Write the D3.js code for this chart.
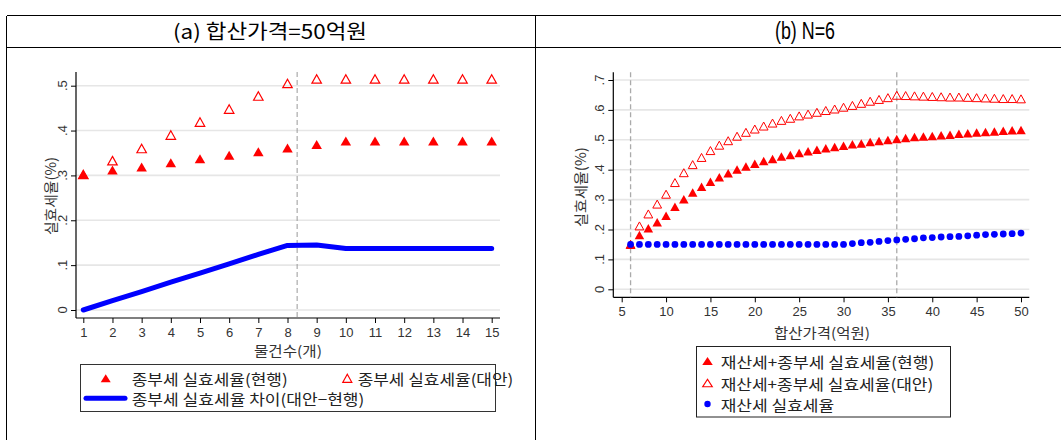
<!DOCTYPE html>
<html><head><meta charset="utf-8">
<script src="https://cdn.jsdelivr.net/npm/d3@7"></script>
<style>body{margin:0;background:#fff} svg{display:block}</style>
</head><body>
<svg id="c" width="1061" height="440"></svg>
<script>
// ---------- DATA ----------
const titleA = "(a) 합산가격=50억원";
const titleB = "(b) N=6";

// Panel (a): 합산가격 = 50억원, x = 물건수
const countX = [1,2,3,4,5,6,7,8,9,10,11,12,13,14,15];
const jbCurrent = [0.302,0.312,0.319,0.328,0.337,0.345,0.353,0.361,0.369,0.377,0.377,0.377,0.377,0.377,0.377];
const jbAlt     = [0.302,0.333,0.360,0.390,0.419,0.448,0.477,0.505,0.515,0.515,0.515,0.515,0.515,0.515,0.515];
const jbDiff    = [0.000,0.021,0.041,0.062,0.082,0.103,0.124,0.144,0.145,0.137,0.137,0.137,0.137,0.137,0.137];
const cutoffA = 8.33;
const xTicksA = [1,2,3,4,5,6,7,8,9,10,11,12,13,14,15];
const yTicksA = [0,0.1,0.2,0.3,0.4,0.5];

// Panel (b): N = 6, x = 합산가격(억원)
const priceX = [6,7,8,9,10,11,12,13,14,15,16,17,18,19,20,21,22,23,24,25,26,27,28,29,30,
                31,32,33,34,35,36,37,38,39,40,41,42,43,44,45,46,47,48,49,50];
const totCurrent = [0.150,0.182,0.204,0.224,0.246,0.276,0.301,0.324,0.343,0.360,0.375,0.388,0.401,0.411,0.420,
                    0.429,0.436,0.444,0.449,0.456,0.462,0.467,0.472,0.476,0.480,0.485,0.488,0.493,0.496,0.499,
                    0.503,0.506,0.509,0.511,0.513,0.515,0.517,0.520,0.522,0.524,0.526,0.528,0.530,0.532,0.533];
const totAlt     = [0.150,0.212,0.252,0.285,0.318,0.357,0.390,0.417,0.441,0.464,0.482,0.497,0.512,0.525,0.536,
                    0.546,0.556,0.565,0.572,0.580,0.586,0.592,0.598,0.603,0.609,0.615,0.622,0.629,0.635,0.641,
                    0.649,0.648,0.647,0.646,0.645,0.644,0.643,0.643,0.642,0.641,0.640,0.639,0.638,0.638,0.637];
const propTax    = [0.150,0.150,0.150,0.150,0.150,0.150,0.150,0.150,0.150,0.150,0.150,0.150,0.150,0.150,0.150,
                    0.150,0.150,0.150,0.150,0.150,0.150,0.150,0.150,0.150,0.150,0.153,0.156,0.157,0.160,0.163,
                    0.165,0.167,0.169,0.172,0.173,0.175,0.176,0.177,0.179,0.181,0.183,0.184,0.185,0.186,0.188];
const cutoffsB = [6,36];
const xTicksB = [5,10,15,20,25,30,35,40,45,50];
const yTicksB = [0,0.1,0.2,0.3,0.4,0.5,0.6,0.7];

const yTitle = "실효세율(%)";
const xTitleA = "물건수(개)";
const xTitleB = "합산가격(억원)";
const legendA = ["종부세 실효세율(현행)", "종부세 실효세율(대안)", "종부세 실효세율 차이(대안−현행)"];
const legendB = ["재산세+종부세 실효세율(현행)", "재산세+종부세 실효세율(대안)", "재산세 실효세율"];

// ---------- DRAW ----------
const svg = d3.select('#c');
const KR = "'Noto Sans CJK KR','Noto Sans',sans-serif";
const NUM = "'Liberation Sans',Arial,sans-serif";
const RED = "#ff0000", BLUE = "#0000ff";
const fmt = v => v === 0 ? "0" : d3.format(".1f")(v).replace(/^0/, "");

svg.append('rect').attr('width',1061).attr('height',440).attr('fill','#fff');

// frame table
const frame = svg.append('g').attr('stroke','#000').attr('stroke-width',1).attr('shape-rendering','crispEdges');
frame.append('line').attr('x1',6.5).attr('x2',1061).attr('y1',15.5).attr('y2',15.5);
frame.append('line').attr('x1',6.5).attr('x2',1061).attr('y1',47.5).attr('y2',47.5);
frame.append('line').attr('x1',6.5).attr('x2',6.5).attr('y1',15.5).attr('y2',440);
frame.append('line').attr('x1',535.5).attr('x2',535.5).attr('y1',15.5).attr('y2',440);

svg.append('text').attr('x',270).attr('y',30.5).attr('text-anchor','middle').attr('dominant-baseline','central')
  .attr('font-family',KR).attr('font-size',20).attr('textLength',194).attr('lengthAdjust','spacingAndGlyphs').text(titleA);
svg.append('text').attr('x',805).attr('y',30.5).attr('text-anchor','middle').attr('dominant-baseline','central')
  .attr('font-family',NUM).attr('font-size',23).attr('textLength',60).attr('lengthAdjust','spacingAndGlyphs').text(titleB);

const tri = (w,h) => `M0,${-h/2}L${w/2},${h/2}L${-w/2},${h/2}Z`;

function panel(o){
  const g = svg.append('g');
  const x = d3.scaleLinear().domain(o.xd).range(o.xr);
  const y = d3.scaleLinear().domain(o.yd).range(o.yr);
  // grid
  g.append('g').selectAll('line').data(o.yTicks).join('line')
    .attr('x1',o.L).attr('x2',o.R).attr('y1',d=>y(d)).attr('y2',d=>y(d))
    .attr('stroke','#e6e6e6').attr('stroke-width',1.6);
  // axes
  const ax = g.append('g').attr('transform',`translate(0,${o.B})`)
    .call(d3.axisBottom(x).tickValues(o.xTicks).tickSize(5).tickPadding(o.xPad).tickFormat(d3.format('d')));
  ax.select('.domain').remove();
  ax.selectAll('text').attr('font-family',NUM).attr('font-size',13).attr('fill','#333');
  ax.selectAll('line').attr('stroke','#000');
  const ay = g.append('g').attr('transform',`translate(${o.L},0)`)
    .call(d3.axisLeft(y).tickValues(o.yTicks).tickSize(5).tickFormat(''));
  ay.select('.domain').remove();
  ay.selectAll('line').attr('stroke','#000');
  g.append('g').selectAll('text').data(o.yTicks).join('text')
    .attr('transform',d=>`translate(${o.yLabX},${y(d)}) rotate(-90)`)
    .attr('text-anchor','middle').attr('dominant-baseline','central')
    .attr('font-family',NUM).attr('font-size',13).attr('fill','#333').text(fmt);
  g.append('line').attr('x1',o.L).attr('x2',o.R).attr('y1',o.B).attr('y2',o.B).attr('stroke','#000').attr('stroke-width',1.2);
  g.append('line').attr('x1',o.L).attr('x2',o.L).attr('y1',o.T).attr('y2',o.B).attr('stroke','#000').attr('stroke-width',1.2);
  // titles
  g.append('text').attr('x',o.xTitleX).attr('y',o.xTitleY).attr('text-anchor','middle').attr('dominant-baseline','central')
    .attr('font-family',KR).attr('font-size',14).attr('fill','#333')
    .attr('textLength',o.xTitleLen).attr('lengthAdjust','spacingAndGlyphs').text(o.xTitle);
  g.append('text').attr('transform',`translate(${o.yTitleX},${o.yTitleY}) rotate(-90)`)
    .attr('text-anchor','middle').attr('dominant-baseline','central')
    .attr('font-family',KR).attr('font-size',14).attr('fill','#333')
    .attr('textLength',o.yTitleLen).attr('lengthAdjust','spacingAndGlyphs').text(yTitle);
  // cutoffs
  g.append('g').selectAll('line').data(o.cutoffs).join('line')
    .attr('x1',d=>x(d)).attr('x2',d=>x(d)).attr('y1',o.T).attr('y2',o.B)
    .attr('stroke',o.dashColor).attr('stroke-width',o.dashW).attr('stroke-dasharray',o.dash);
  return {g,x,y};
}

// Panel A
const A = panel({xd:[1,15], xr:[83.3,491.7], yd:[0,0.5], yr:[310,85.7], L:76, R:500, T:72, B:318,
  xTicks:xTicksA, yTicks:yTicksA, xPad:5, yLabX:62, xTitle:xTitleA, xTitleX:288, xTitleY:350, xTitleLen:68,
  yTitleX:50, yTitleY:196, yTitleLen:78, cutoffs:[cutoffA], dashColor:'#999', dashW:1, dash:'5,3'});
A.g.append('path').datum(d3.zip(countX, jbDiff))
  .attr('d', d3.line().x(d=>A.x(d[0])).y(d=>A.y(d[1])))
  .attr('fill','none').attr('stroke',BLUE).attr('stroke-width',5).attr('stroke-linecap','round').attr('stroke-linejoin','round');
A.g.append('g').selectAll('path').data(d3.zip(countX, jbCurrent)).join('path')
  .attr('transform',d=>`translate(${A.x(d[0])},${A.y(d[1])})`).attr('d',tri(10.5,9)).attr('fill',RED);
A.g.append('g').selectAll('path').data(d3.zip(countX, jbAlt)).join('path')
  .attr('transform',d=>`translate(${A.x(d[0])},${A.y(d[1])})`).attr('d',tri(9.5,8.5))
  .attr('fill','none').attr('stroke',RED).attr('stroke-width',1.2);

// Panel B
const Bp = panel({xd:[5,50], xr:[621.7,1021], yd:[0,0.7], yr:[289.3,80], L:613.3, R:1029.3, T:72.3, B:297.3,
  xTicks:xTicksB, yTicks:yTicksB, xPad:4, yLabX:599.5, xTitle:xTitleB, xTitleX:822, xTitleY:332, xTitleLen:96,
  yTitleX:580, yTitleY:187, yTitleLen:80, cutoffs:cutoffsB, dashColor:'#aaa', dashW:1.3, dash:'5,3'});
Bp.g.append('g').selectAll('path').data(d3.zip(priceX, totCurrent)).join('path')
  .attr('transform',d=>`translate(${Bp.x(d[0])},${Bp.y(d[1])})`).attr('d',tri(9.5,8.5)).attr('fill',RED);
Bp.g.append('g').selectAll('path').data(d3.zip(priceX, totAlt)).join('path')
  .attr('transform',d=>`translate(${Bp.x(d[0])},${Bp.y(d[1])})`).attr('d',tri(8.8,8))
  .attr('fill','none').attr('stroke',RED).attr('stroke-width',1);
Bp.g.append('g').selectAll('circle').data(d3.zip(priceX, propTax)).join('circle')
  .attr('cx',d=>Bp.x(d[0])).attr('cy',d=>Bp.y(d[1])).attr('r',3.4).attr('fill',BLUE);

// Legend A
const lgA = svg.append('g');
lgA.append('rect').attr('x',80.5).attr('y',364.5).attr('width',415).attr('height',47).attr('fill','#fff').attr('stroke','#333').attr('stroke-width',1);
lgA.append('path').attr('transform','translate(105.7,378.3)').attr('d',tri(10,8)).attr('fill',RED);
lgA.append('path').attr('transform','translate(347.3,378.3)').attr('d',tri(9,8)).attr('fill','none').attr('stroke',RED).attr('stroke-width',1.2);
lgA.append('line').attr('x1',86).attr('x2',125).attr('y1',398.3).attr('y2',398.3).attr('stroke',BLUE).attr('stroke-width',5).attr('stroke-linecap','round');
const lgAtxt = [[131.7,378.3,156],[357.7,378.3,155.6],[131.7,398.3,232.6]];
lgA.selectAll('text').data(legendA).join('text')
  .attr('x',(d,i)=>lgAtxt[i][0]).attr('y',(d,i)=>lgAtxt[i][1]).attr('dominant-baseline','central')
  .attr('font-family',KR).attr('font-size',15).attr('fill','#222')
  .attr('textLength',(d,i)=>lgAtxt[i][2]).attr('lengthAdjust','spacingAndGlyphs').text(d=>d);

// Legend B
const lgB = svg.append('g');
lgB.append('rect').attr('x',696.5).attr('y',346.5).attr('width',254).attr('height',70.5).attr('fill','#fff').attr('stroke','#222').attr('stroke-width',1);
lgB.append('path').attr('transform','translate(707.5,361)').attr('d',tri(10.5,8)).attr('fill',RED);
lgB.append('path').attr('transform','translate(707.5,383)').attr('d',tri(9.5,7.5)).attr('fill','none').attr('stroke',RED).attr('stroke-width',1.2);
lgB.append('circle').attr('cx',707.5).attr('cy',404).attr('r',3.2).attr('fill',BLUE);
const lgBtxt = [[720.7,361,213.5],[720.7,383,212.5],[720.7,404,113.5]];
lgB.selectAll('text').data(legendB).join('text')
  .attr('x',(d,i)=>lgBtxt[i][0]).attr('y',(d,i)=>lgBtxt[i][1]).attr('dominant-baseline','central')
  .attr('font-family',KR).attr('font-size',15).attr('fill','#222')
  .attr('textLength',(d,i)=>lgBtxt[i][2]).attr('lengthAdjust','spacingAndGlyphs').text(d=>d);
</script>
</body></html>
